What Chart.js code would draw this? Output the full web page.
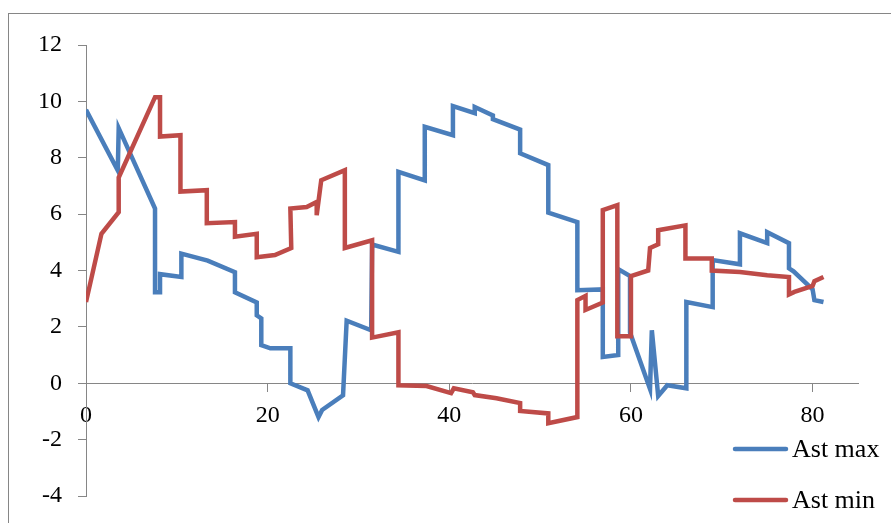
<!DOCTYPE html>
<html>
<head>
<meta charset="utf-8">
<script src="https://cdn.jsdelivr.net/npm/chart.js@4/dist/chart.umd.min.js"></script>
<style>
  html, body { margin: 0; padding: 0; background: #fff; }
  #wrap { width: 891px; height: 523px; position: relative; }
</style>
</head>
<body>
<div id="wrap"><canvas id="chart"></canvas></div>
<script>
// Ast max series
const maxX = [0, 3.5, 3.6, 7.6, 7.6, 8.15, 8.15, 10.5, 10.5, 13.4, 16.4, 16.4, 18.8, 18.8, 19.3, 19.3, 20.3, 22.5, 22.5, 24.4,
  25.6, 26, 28.3, 28.7, 31.4, 31.5, 34.4, 34.4, 37.3, 37.3, 40.4, 40.4, 42.8, 42.8, 44.8, 44.8, 47.8, 47.8, 50.9, 50.9,
  54.1, 54.1, 56.9, 56.9, 58.6, 58.6, 59.9, 59.9, 62.1, 62.3, 63, 64, 66.1, 66.1, 69, 69, 72, 72, 75, 75,
  77.4, 77.4, 77.9, 80, 80.2, 81.2];
const maxY = [9.7, 7.55, 9.05, 6.2, 3.23, 3.23, 3.87, 3.77, 4.6, 4.35, 3.94, 3.23, 2.87, 2.41, 2.3, 1.35, 1.24, 1.24, 0.0, -0.25,
  -1.2, -0.95, -0.43, 2.22, 1.88, 4.92, 4.66, 7.5, 7.2, 9.1, 8.8, 9.83, 9.58, 9.8, 9.5, 9.37, 9.0, 8.16, 7.74, 6.05,
  5.72, 3.3, 3.33, 0.93, 1.0, 4.05, 3.8, 1.8, -0.2, 1.88, -0.45, -0.07, -0.18, 2.88, 2.7, 4.37, 4.22, 5.32, 4.97, 5.36,
  4.97, 4.08, 3.97, 3.33, 2.95, 2.88];

// Ast min series
const minX = [0, 1.7, 3.6, 3.6, 7.6, 8.15, 8.15, 10.4, 10.4, 13.3, 13.3, 16.4, 16.4, 18.8, 18.8, 20.8, 22.6, 22.5, 24.3, 25.4,
  25.4, 25.9, 28.5, 28.5, 31.5, 31.5, 34.4, 34.4, 37.5, 40.2, 40.5, 42.6, 42.8, 45.2, 47.8, 47.8, 50.9, 50.9, 54.1, 54.1,
  55, 55, 56.9, 56.9, 58.5, 58.5, 60, 60, 61.9, 62.1, 63, 63, 66, 66, 68.9, 68.9, 72, 75, 77.4, 77.4,
  78, 80, 80.2, 81.2];
const minY = [2.88, 5.3, 6.07, 7.3, 10.15, 10.15, 8.75, 8.8, 6.8, 6.85, 5.68, 5.72, 5.2, 5.3, 4.47, 4.55, 4.8, 6.2, 6.25, 6.43,
  5.96, 7.2, 7.56, 4.8, 5.07, 1.62, 1.81, -0.07, -0.1, -0.35, -0.18, -0.32, -0.42, -0.53, -0.7, -0.98, -1.07, -1.42, -1.2, 2.95,
  3.1, 2.6, 2.86, 6.14, 6.32, 1.67, 1.67, 3.8, 4.0, 4.8, 4.93, 5.43, 5.6, 4.43, 4.43, 4.0, 3.95, 3.83, 3.77, 3.15,
  3.24, 3.45, 3.62, 3.77];

const seriesNames = ['Ast max', 'Ast min'];
const xTicks = [0, 20, 40, 60, 80];
const yTicks = [-4, -2, 0, 2, 4, 6, 8, 10, 12];

const toPoints = (xs, ys) => xs.map((x, i) => ({ x: x, y: ys[i] }));

const axisGray = '#868686';
const serif = "'Liberation Serif', 'Times New Roman', serif";

// frame around the whole chart
const framePlugin = {
    id: 'frame',
    beforeDraw(chart) {
        const ctx = chart.ctx;
        ctx.save();
        ctx.strokeStyle = axisGray;
        ctx.lineWidth = 1;
        ctx.strokeRect(8.5, 13.5, chart.width + 10, chart.height + 10);
        ctx.restore();
    }
};

// legend drawn over the lower right corner, like the original
const legendPlugin = {
    id: 'cornerLegend',
    afterDraw(chart) {
        const ctx = chart.ctx;
        ctx.save();
        chart.data.datasets.forEach((ds, i) => {
            const y = 449 + i * 51;
            ctx.strokeStyle = ds.borderColor;
            ctx.lineWidth = 4.5;
            ctx.lineCap = 'round';
            ctx.beginPath();
            ctx.moveTo(735, y);
            ctx.lineTo(786, y);
            ctx.stroke();
            ctx.fillStyle = '#000';
            ctx.font = '26px ' + serif;
            ctx.textBaseline = 'middle';
            ctx.textAlign = 'left';
            ctx.fillText(ds.label, 792, y + 1);
        });
        ctx.restore();
    }
};

new Chart(document.getElementById('chart'), {
    type: 'scatter',
    data: {
        datasets: [{
            label: seriesNames[0],
            data: toPoints(maxX, maxY),
            borderColor: '#4a7ebb',
            showLine: true,
            borderWidth: 4.5,
            pointRadius: 0,
            tension: 0,
            order: 1
        }, {
            label: seriesNames[1],
            data: toPoints(minX, minY),
            borderColor: '#be4b48',
            showLine: true,
            borderWidth: 4.5,
            pointRadius: 0,
            tension: 0,
            order: 0
        }]
    },
    options: {
        responsive: true,
        maintainAspectRatio: false,
        animation: false,
        layout: { padding: { left: 0, right: 33, top: 45, bottom: 27 } },
        plugins: {
            legend: { display: false },
            tooltip: { enabled: false }
        },
        scales: {
            x: {
                type: 'linear',
                position: { y: 0 },
                min: 0,
                max: 85,
                afterBuildTicks: (scale) => { scale.ticks = xTicks.map(v => ({ value: v })); },
                afterFit: (scale) => { scale.height = 0; },
                grid: { drawOnChartArea: false, drawTicks: true, tickLength: 8, color: axisGray },
                border: { color: axisGray, width: 1 },
                ticks: { color: '#000', font: { family: serif, size: 24 }, padding: 10, maxRotation: 0 }
            },
            y: {
                type: 'linear',
                min: -4,
                max: 12,
                afterBuildTicks: (scale) => { scale.ticks = yTicks.map(v => ({ value: v })); },
                afterFit: (scale) => {
                    scale.width = 86;
                    // keep label padding from pushing the plot area in
                    scale.paddingTop = 0;
                    scale.paddingBottom = 0;
                },
                grid: { drawOnChartArea: false, drawTicks: true, tickLength: 8, color: axisGray },
                border: { color: axisGray, width: 1 },
                ticks: { color: '#000', font: { family: serif, size: 24 }, padding: 16 }
            }
        }
    },
    plugins: [framePlugin, legendPlugin]
});
</script>
</body>
</html>
